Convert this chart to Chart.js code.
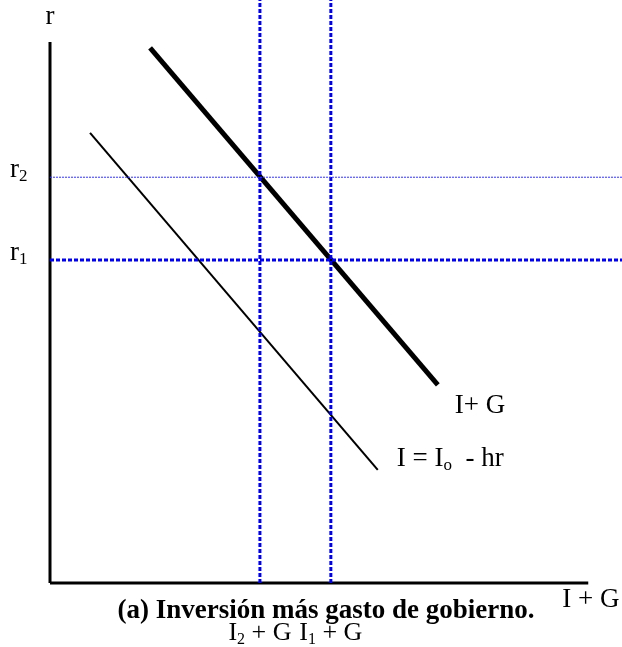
<!DOCTYPE html>
<html>
<head>
  <title>Inversión más gasto de gobierno</title>
  <script src="https://cdn.jsdelivr.net/npm/chart.js"></script>
  <style>
    body {
      margin: 0;
      padding: 0;
      background-color: white;
    }
    .chart-container {
      position: relative;
      width: 622px;
      height: 647px;
    }
  </style>
</head>
<body>
  <div class="chart-container">
    <canvas id="isChart"></canvas>
  </div>

  <script>
    // Axis range (data units)
    const xMax = 100;
    const yMax = 100;
    const yAxisTop = 92.8;
    const xAxisEnd = 94.1;

    // I = Io - hr (thin line)
    const invX = [7.0, 57.3];
    const invY = [77.2, 19.4];

    // I + G (thick line)
    const govX = [17.5, 67.8];
    const govY = [91.8, 34.0];

    // interest rate levels r1, r2
    const rValues = [55.4, 69.6];
    const rSubs = ['1', '2'];
    const rWidths = [3, 1];

    // quantity levels I1 + G, I2 + G
    const qValues = [49.1, 36.7];
    const qSubs = ['1', '2'];

    const blue = '#0000ee';
    const serif = '"Liberation Serif", "Times New Roman", serif';

    function seg(xs, ys) {
      return xs.map((x, i) => ({ x: x, y: ys[i] }));
    }

    const datasets = [];

    // dotted guides on top
    rValues.forEach((r, i) => {
      datasets.push({
        data: seg([0, xMax], [r, r]),
        borderColor: rWidths[i] > 1 ? blue : '#3333ff',
        borderWidth: rWidths[i],
        borderDash: rWidths[i] > 1 ? [4, 2] : [2, 1]
      });
    });
    qValues.forEach(q => {
      datasets.push({
        data: seg([q, q], [0, yMax]),
        borderColor: blue,
        borderWidth: 3,
        borderDash: [4, 2]
      });
    });

    datasets.push({ data: seg(govX, govY), borderColor: '#000', borderWidth: 5 });
    datasets.push({ data: seg(invX, invY), borderColor: '#000', borderWidth: 2 });

    // axes
    datasets.push({ data: seg([0, 0], [0, yAxisTop]), borderColor: '#000', borderWidth: 3 });
    datasets.push({ data: seg([0, xAxisEnd], [0, 0]), borderColor: '#000', borderWidth: 3 });

    datasets.forEach(d => {
      d.showLine = true;
      d.pointRadius = 0;
      d.fill = false;
      d.borderCapStyle = 'butt';
    });

    // text with a subscript: base, sub, rest
    function subText(ctx, x, y, base, sub, rest, size, align) {
      ctx.font = size + 'px ' + serif;
      const wb = ctx.measureText(base).width;
      const wr = ctx.measureText(rest).width;
      ctx.font = Math.round(size * 0.62) + 'px ' + serif;
      const ws = ctx.measureText(sub).width;
      let start = x;
      const total = wb + ws + wr;
      if (align === 'center') start = x - total / 2;
      ctx.textAlign = 'left';
      ctx.font = size + 'px ' + serif;
      ctx.fillText(base, start, y);
      ctx.font = Math.round(size * 0.62) + 'px ' + serif;
      ctx.fillText(sub, start + wb, y + size * 0.15);
      ctx.font = size + 'px ' + serif;
      ctx.fillText(rest, start + wb + ws, y);
    }

    const labelsPlugin = {
      id: 'labels',
      afterDraw(chart) {
        const ctx = chart.ctx;
        const xs = chart.scales.x;
        const ys = chart.scales.y;
        ctx.save();
        ctx.fillStyle = '#000';
        ctx.textBaseline = 'alphabetic';

        ctx.font = '27px ' + serif;
        ctx.textAlign = 'center';
        ctx.fillText('r', xs.getPixelForValue(0), 24);

        rValues.forEach((r, i) => {
          subText(ctx, 10, ys.getPixelForValue(r), 'r', rSubs[i], '', 27, 'left');
        });

        qValues.forEach((q, i) => {
          subText(ctx, xs.getPixelForValue(q), 640, 'I', qSubs[i], ' + G', 26, 'center');
        });

        ctx.font = '27px ' + serif;
        ctx.textAlign = 'left';
        ctx.fillText('I + G', xs.getPixelForValue(xAxisEnd) - 26, 607);
        ctx.fillText('I+ G', xs.getPixelForValue(govX[1]) + 17, 413);
        subText(ctx, xs.getPixelForValue(invX[1]) + 19, 466, 'I = I', 'o', '  - hr', 27, 'left');

        ctx.font = 'bold 27px ' + serif;
        ctx.textAlign = 'center';
        ctx.fillText('(a) Inversión más gasto de gobierno.', 326, 618);
        ctx.restore();
      }
    };

    document.addEventListener('DOMContentLoaded', function() {
      const ctx = document.getElementById('isChart').getContext('2d');
      new Chart(ctx, {
        type: 'scatter',
        data: { datasets: datasets },
        options: {
          responsive: true,
          maintainAspectRatio: false,
          animation: false,
          clip: false,
          layout: { padding: { left: 50, right: 0, top: 0, bottom: 64 } },
          scales: {
            x: { type: 'linear', min: 0, max: xMax, display: false },
            y: { type: 'linear', min: 0, max: yMax, display: false }
          },
          plugins: {
            legend: { display: false },
            tooltip: { enabled: false }
          }
        },
        plugins: [labelsPlugin]
      });
    });
  </script>
</body>
</html>
